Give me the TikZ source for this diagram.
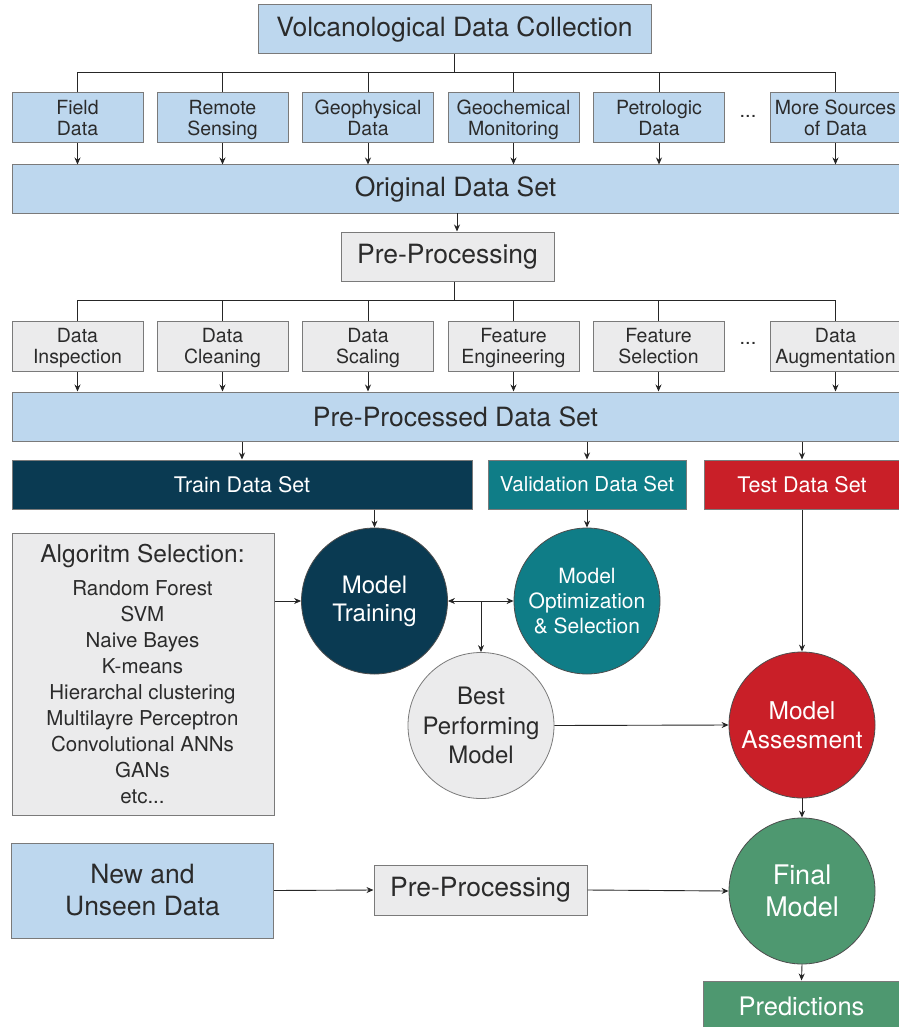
\documentclass[tikz,border=0pt]{standalone}
\usepackage{fontspec}
\setmainfont{TeX Gyre Heros}
\usetikzlibrary{arrows.meta}
\definecolor{lblue}{HTML}{BDD7EE}
\definecolor{lgray}{HTML}{EBEBEC}
\definecolor{navy}{HTML}{0A3A52}
\definecolor{teal2}{HTML}{0F7D87}
\definecolor{red2}{HTML}{C91F28}
\definecolor{green2}{HTML}{4E9870}
\definecolor{bord}{HTML}{7A7A7A}
\definecolor{txt}{HTML}{2B2B2B}
\newcommand{\fs}[2]{\fontsize{#1}{#2}\selectfont}
\newcommand{\twol}[2]{\rule{0pt}{19.5pt}#1\\#2\rule[-5pt]{0pt}{5pt}}
\tikzset{
  base/.style={draw=bord, line width=1pt, inner sep=0pt, align=center, text=txt},
  bluebox/.style={base, fill=lblue},
  graybox/.style={base, fill=lgray},
  subbox/.style={minimum width=131pt, minimum height=50pt, font=\fs{19.5}{21}},
  circ/.style={circle, draw=black!70, line width=0.8pt, minimum size=146pt, inner sep=0pt, align=center, text=white},
  arr/.style={-{Stealth[length=7pt,width=6pt]}, line width=0.9pt, draw=black!85},
  ln/.style={line width=0.9pt, draw=black!85},
}
\begin{document}
\begin{tikzpicture}[x=1pt,y=-1pt]
\useasboundingbox (0,0) rectangle (898,1027);
\fill[white] (0,0) rectangle (898,1027);
% top
\node[bluebox, minimum width=393pt, minimum height=49pt, font=\fs{26.5}{28}] (title) at (454.5,29.5) {Volcanological Data Collection};
\node[bluebox, subbox] (s1) at (77.5,118) {\twol{Field}{Data}};
\node[bluebox, subbox] (s2) at (222.5,118) {\twol{Remote}{Sensing}};
\node[bluebox, subbox] (s3) at (368,118) {\twol{Geophysical}{Data}};
\node[bluebox, subbox] (s4) at (513.5,118) {\twol{Geochemical}{Monitoring}};
\node[bluebox, subbox] (s5) at (659,118) {\twol{Petrologic}{Data}};
\node[font=\fs{20}{21}, text=txt] (d1) at (748,116) {...};
\node[bluebox, subbox] (s6) at (835.5,118) {\twol{More Sources}{of Data}};
\node[bluebox, minimum width=887pt, minimum height=48pt, font=\fs{26.5}{28}] (ods) at (455.5,189) {Original Data Set};
\coordinate (b1) at (457,72);
\draw[ln] (title.south) -- (title.south |- b1);
\draw[ln] (s1.north) -- (s1.north |- b1) -- (s6.north |- b1) -- (s6.north);
\foreach \n in {s2,s3,s4,s5} \draw[ln] (\n.north) -- (\n.north |- b1);
\foreach \n in {s1,s2,s3,s4,s5,s6} \draw[arr] (\n.south) -- (\n.south |- ods.north);
% pre-processing
\node[graybox, minimum width=213pt, minimum height=49pt, font=\fs{26.5}{28}] (pp) at (447.5,256.5) {Pre-Processing};
\coordinate (c1) at (457,213);
\draw[arr] (c1) -- (c1 |- pp.north);
\node[graybox, subbox] (p1) at (77.5,346) {\twol{Data}{Inspection}};
\node[graybox, subbox] (p2) at (222.5,346) {\twol{Data}{Cleaning}};
\node[graybox, subbox] (p3) at (368,346) {\twol{Data}{Scaling}};
\node[graybox, subbox] (p4) at (513.5,346) {\twol{Feature}{Engineering}};
\node[graybox, subbox] (p5) at (658.5,346) {\twol{Feature}{Selection}};
\node[font=\fs{20}{21}, text=txt] (d2) at (748,343) {...};
\node[graybox, subbox] (p6) at (835.5,346) {\twol{Data}{Augmentation}};
\coordinate (b2) at (454,300);
\draw[ln] (pp.south -| b2) -- (b2);
\draw[ln] (p1.north) -- (p1.north |- b2) -- (p6.north |- b2) -- (p6.north);
\foreach \n in {p2,p3,p4,p5} \draw[ln] (\n.north) -- (\n.north |- b2);
\node[bluebox, minimum width=887pt, minimum height=49pt, font=\fs{26.5}{28}] (ppd) at (455.5,416.5) {Pre-Processed Data Set};
\foreach \n in {p1,p2,p3,p4,p5,p6} \draw[arr] (\n.south) -- (\n.south |- ppd.north);
% splits
\node[base, fill=navy, text=white, minimum width=460pt, minimum height=49pt, font=\fs{21.5}{23}] (train) at (242,484.5) {Train Data Set};
\node[base, fill=teal2, text=white, minimum width=198pt, minimum height=49pt, font=\fs{20.5}{22}] (val) at (587,484.5) {Validation Data Set};
\node[base, fill=red2, text=white, minimum width=196pt, minimum height=49pt, font=\fs{21.5}{23}] (test) at (802,484.5) {Test Data Set};
\foreach \n in {train,val,test} \draw[arr] (ppd.south -| \n.north) -- (\n.north);
% algorithms
\node[graybox, minimum width=262pt, minimum height=282pt, anchor=north west] (algo) at (11.5,533) {};
\node[text=txt, anchor=north, align=center, font=\fs{20.5}{26}] (algotxt) at (142.5,541) {\fs{24.5}{30}Algoritm Selection:\\[7pt]\fs{20.5}{26}Random Forest\\SVM\\Naive Bayes\\K-means\\Hierarchal clustering\\Multilayre Perceptron\\Convolutional ANNs\\GANs\\etc...};
% circles
\node[circ, fill=navy, font=\fs{24}{28}] (mt) at (374.5,601) {Model\\Training};
\node[circ, fill=teal2, font=\fs{21}{25}] (mo) at (587,601) {Model\\Optimization\\\& Selection};
\node[circ, fill=lgray, draw=bord, text=txt, font=\fs{24}{29.5}] (bp) at (481,725.5) {Best\\Performing\\Model};
\node[circ, fill=red2, font=\fs{24.5}{29}] (ma) at (802,725) {Model\\Assesment};
\node[circ, fill=green2, font=\fs{27}{32}] (fm) at (802,891) {Final\\Model};
\draw[arr] (train.south -| mt.north) -- (mt.north);
\draw[arr] (val.south) -- (mo.north);
\draw[arr] (test.south) -- (ma.north);
\draw[arr] (mt.west -| algo.east) -- (mt.west);
\draw[{Stealth[length=7pt,width=6pt]}-{Stealth[length=7pt,width=6pt]}, line width=0.9pt, draw=black!85] (mt.east) -- (mo.west);
\draw[arr] (bp.north |- mt.east) -- (bp.north);
\draw[arr] (bp.east) -- (ma.west);
\draw[arr] (ma.south) -- (fm.north);
% bottom
\node[bluebox, minimum width=262pt, minimum height=95pt, font=\fs{26.5}{32}] (new) at (142.5,890.5) {New and\\Unseen Data};
\node[graybox, minimum width=213pt, minimum height=50pt, font=\fs{26.5}{28}] (pp2) at (480.5,890) {Pre-Processing};
\node[base, fill=green2, text=white, minimum width=197pt, minimum height=50pt, font=\fs{25.5}{27}] (pred) at (801.5,1006) {Predictions};
\draw[arr] (new.east) -- (pp2.west);
\draw[arr] (pp2.east) -- (fm.west);
\draw[arr] (fm.south) -- (pred.north);
\end{tikzpicture}
\end{document}
